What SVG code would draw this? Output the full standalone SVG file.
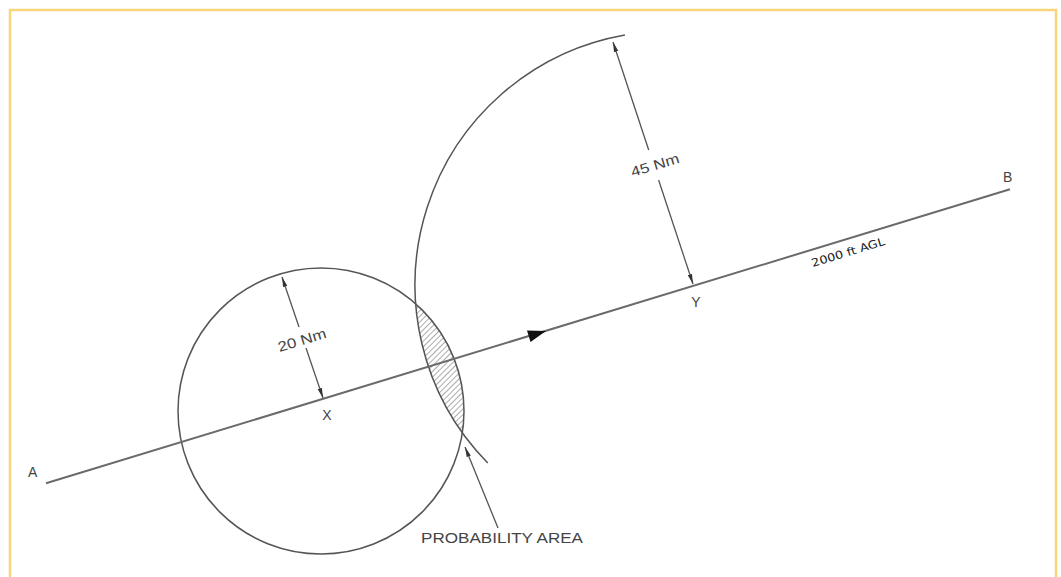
<svg xmlns="http://www.w3.org/2000/svg" width="1061" height="577" viewBox="0 0 1061 577">
<style>
.ln{fill:none;stroke:#555;stroke-width:1.5}
.main{fill:none;stroke:#6a6a6a;stroke-width:2}
.dim{fill:none;stroke:#555;stroke-width:1.3}
.lbl{font-family:"Liberation Sans",Arial,sans-serif;font-size:14px;fill:#444}
.sm{font-family:"DejaVu Sans","Liberation Sans",sans-serif;font-size:11px;fill:#222}
</style>
<defs>
<marker id="ah" viewBox="0 0 10 6" refX="10" refY="3" markerWidth="10" markerHeight="6" markerUnits="userSpaceOnUse" orient="auto-start-reverse">
<path d="M0,0.8 L10,3 L0,5.2 Z" fill="#333"/>
</marker>
<pattern id="hatch" patternUnits="userSpaceOnUse" width="4" height="4" patternTransform="rotate(45)">
<line x1="0" y1="0" x2="0" y2="4" stroke="#888" stroke-width="1.4"/>
</pattern>
</defs>
<rect width="1061" height="577" fill="#fff"/>
<rect x="10" y="10" width="1046" height="580" fill="none" stroke="#f7d67a" stroke-width="2.5"/>

<g id="probability-area">
<path d="M415.7,303.9 A143,143 0 0 1 462.3,432.7 A254,254 0 0 1 415.7,303.9 Z" fill="url(#hatch)" stroke="none"/>
</g>

<g id="circle-x">
<circle cx="321" cy="411" r="143" class="ln"/>
</g>

<g id="arc-y">
<path d="M624.9,34.9 A254,254 0 0 0 487.8,463" class="ln"/>
</g>

<g id="connectors">
<line x1="46" y1="483.3" x2="1010" y2="189.3" class="main"/>
<path d="M546,331 L527,330.5 L530.5,342 Z" fill="#111"/>
<line x1="299" y1="327" x2="282" y2="277" class="dim" marker-end="url(#ah)"/>
<line x1="306" y1="348" x2="323" y2="398" class="dim" marker-end="url(#ah)"/>
<line x1="648.7" y1="150" x2="613" y2="42" class="dim" marker-end="url(#ah)"/>
<line x1="658.6" y1="180" x2="693" y2="284" class="dim" marker-end="url(#ah)"/>
<line x1="498" y1="528" x2="465" y2="447" class="dim" marker-end="url(#ah)"/>
</g>

<g id="labels">
<text x="28" y="477" class="lbl">A</text>
<text x="1003" y="182" class="lbl">B</text>
<text x="327" y="420" class="lbl" text-anchor="middle">X</text>
<text x="696" y="307" class="lbl" text-anchor="middle">Y</text>
<text x="302" y="345" class="lbl" text-anchor="middle" textLength="50" lengthAdjust="spacingAndGlyphs" transform="rotate(-17 302 340)">20 Nm</text>
<text x="655" y="170" class="lbl" text-anchor="middle" textLength="50" lengthAdjust="spacingAndGlyphs" transform="rotate(-17 655 165)">45 Nm</text>
<text x="848" y="256" class="sm" text-anchor="middle" textLength="76" lengthAdjust="spacingAndGlyphs" transform="rotate(-17 848 252)">2000 ft AGL</text>
<text x="421" y="543" class="lbl" textLength="162" lengthAdjust="spacingAndGlyphs">PROBABILITY AREA</text>
</g>
</svg>
